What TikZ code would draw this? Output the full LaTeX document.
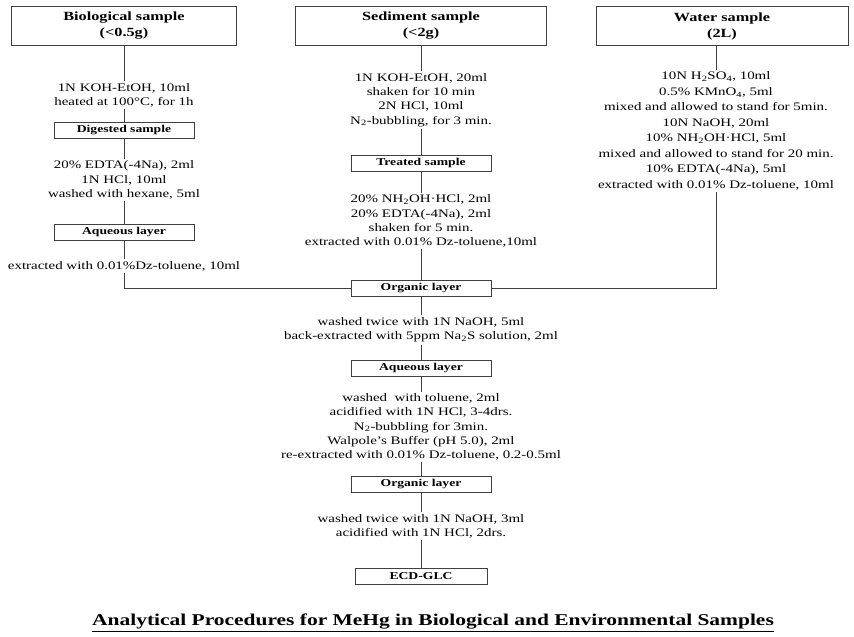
\documentclass[tikz,border=0pt]{standalone}
\usepackage{fontspec}
\setmainfont{Liberation Serif}[FakeStretch=1.3]
\usetikzlibrary{positioning}
\tikzset{
  head/.style={draw=black!75, line width=0.8pt, minimum height=39pt, align=center,
    font=\fontsize{12.5}{16}\selectfont\bfseries},
  stage/.style={draw=black!75, line width=0.8pt, minimum width=140pt, minimum height=16pt,
    inner sep=1pt, font=\fontsize{10.5}{12}\selectfont\bfseries},
  steps/.style={align=center, inner sep=2pt, font=\fontsize{11.5}{14.2}\selectfont},
  widesteps/.style={steps, font=\fontsize{11.5}{15.5}\selectfont},
  link/.style={draw=black!75, line width=0.8pt},
}

\begin{document}
\begin{tikzpicture}[x=1pt,y=-1pt]
	\useasboundingbox (0,0) rectangle (854,637);
	% three samples
	\node (bio) [head, minimum width=225pt] at (124,26) {Biological sample\\(<0.5g)};
	\node (sed) [head, minimum width=251pt] at (421,26) {Sediment sample\\(<2g)};
	\node (wat) [head, minimum width=252pt] at (722,26) {Water sample\\(2L)};
	% biological
	\node (bioA) [steps] at (124,95)  {1N KOH-EtOH, 10ml\\heated at 100°C, for 1h};
	\node (dig)  [stage] at (124,130) {Digested sample};
	\node (bioB) [steps] at (124,180) {20\% EDTA(-4Na), 2ml\\1N HCl, 10ml\\washed with hexane, 5ml};
	\node (aq1)  [stage] at (124,232) {Aqueous layer};
	\node (bioC) [steps] at (124,266) {extracted with 0.01\%Dz-toluene, 10ml};
	% sediment
	\node (sedA) [steps] at (421,100) {1N KOH-EtOH, 20ml\\shaken for 10 min\\2N HCl, 10ml\\N\textsubscript{2}-bubbling, for 3 min.};
	\node (trt)  [stage] at (421,163) {Treated sample};
	\node (sedB) [steps] at (421,221) {20\% NH\textsubscript{2}OH·HCl, 2ml\\20\% EDTA(-4Na), 2ml\\shaken for 5 min.\\extracted with 0.01\% Dz-toluene,10ml};
	% water
	\node (watA) [widesteps] at (716,131) {10N H\textsubscript{2}SO\textsubscript{4}, 10ml\\0.5\% KMnO\textsubscript{4}, 5ml\\mixed and allowed to stand for 5min.\\10N NaOH, 20ml\\10\% NH\textsubscript{2}OH·HCl, 5ml\\mixed and allowed to stand for 20 min.\\10\% EDTA(-4Na), 5ml\\extracted with 0.01\% Dz-toluene, 10ml};
	% common part
	\node (org1) [stage] at (421,288) {Organic layer};
	\node (comA) [steps] at (421,330) {washed twice with 1N NaOH, 5ml\\back-extracted with 5ppm Na\textsubscript{2}S solution, 2ml};
	\node (aq2)  [stage] at (421,368) {Aqueous layer};
	\node (comB) [steps] at (421,427) {washed\ \ with toluene, 2ml\\acidified with 1N HCl, 3-4drs.\\N\textsubscript{2}-bubbling for 3min.\\Walpole's Buffer (pH 5.0), 2ml\\re-extracted with 0.01\% Dz-toluene, 0.2-0.5ml};
	\node (org2) [stage] at (421,484) {Organic layer};
	\node (comC) [steps] at (421,526) {washed twice with 1N NaOH, 3ml\\acidified with 1N HCl, 2drs.};
	\node (ecd)  [stage, minimum width=132pt] at (421,576) {ECD-GLC};
	\node (title) at (433,623) {\fontsize{16.5}{20}\selectfont\bfseries\underline{Analytical Procedures for MeHg in Biological and Environmental Samples}};
	% connectors
	\draw[link] (bio) -- (bioA);
	\draw[link] (bioA) -- (dig);
	\draw[link] (dig) -- (bioB);
	\draw[link] (bioB) -- (aq1);
	\draw[link] (aq1) -- (bioC);
	\draw[link] (bioC) |- (org1);
	\draw[link] (sed) -- (sedA);
	\draw[link] (sedA) -- (trt);
	\draw[link] (trt) -- (sedB);
	\draw[link] (sedB) -- (org1);
	\draw[link] (wat.south -| watA) -- (watA);
	\draw[link] (watA) |- (org1);
	\draw[link] (org1) -- (comA);
	\draw[link] (comA) -- (aq2);
	\draw[link] (aq2) -- (comB);
	\draw[link] (comB) -- (org2);
	\draw[link] (org2) -- (comC);
	\draw[link] (comC) -- (ecd);
\end{tikzpicture}
\end{document}
